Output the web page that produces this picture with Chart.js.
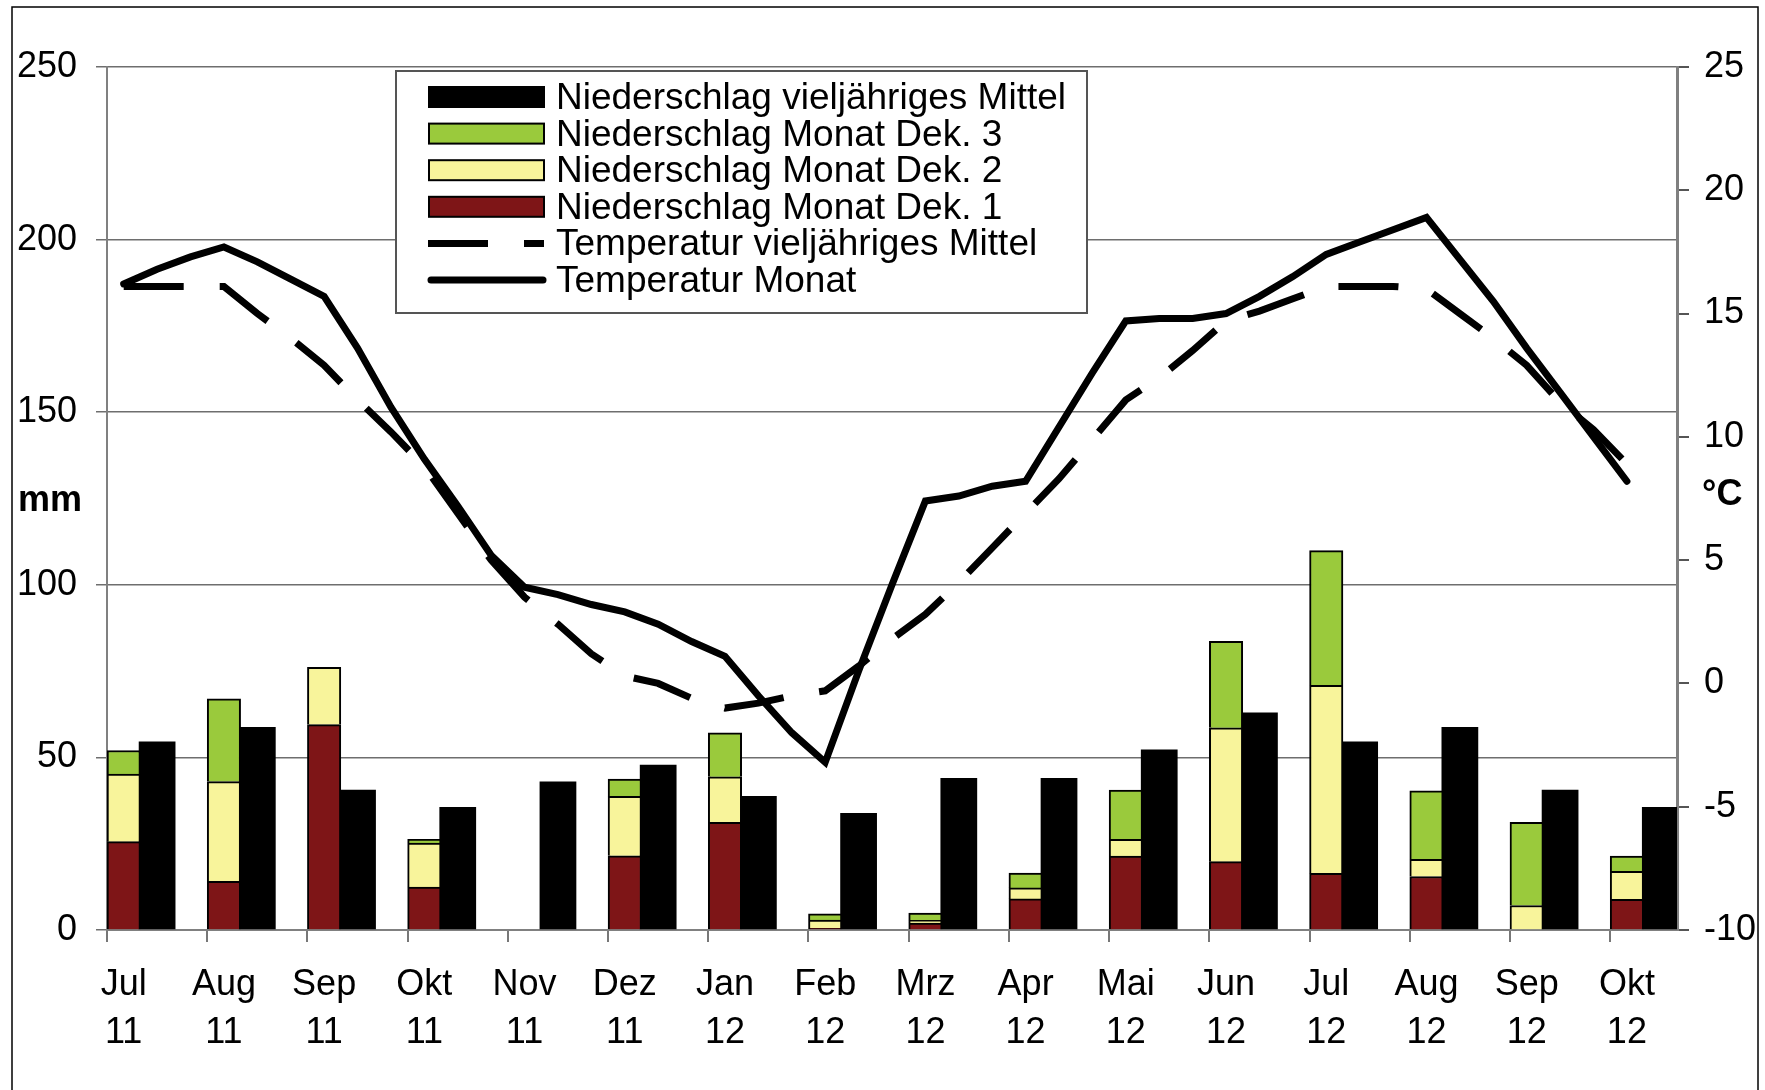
<!DOCTYPE html>
<html lang="de">
<head>
<meta charset="utf-8">
<title>Niederschlag und Temperatur</title>
<script src="https://cdn.jsdelivr.net/npm/chart.js@4.4.1/dist/chart.umd.min.js"></script>
<style>
  html, body { margin: 0; padding: 0; background: #fff; }
  canvas { display: block; }
</style>
</head>
<body>
<canvas id="klimaChart" width="1765" height="1090"></canvas>
<script>
// months Jul 11 .. Okt 12
const months = ['Jul', 'Aug', 'Sep', 'Okt', 'Nov', 'Dez', 'Jan', 'Feb', 'Mrz', 'Apr', 'Mai', 'Jun', 'Jul', 'Aug', 'Sep', 'Okt'];
const years  = ['11', '11', '11', '11', '11', '11', '12', '12', '12', '12', '12', '12', '12', '12', '12', '12'];

// precipitation in mm, per dekade of the month and long-term mean
const niederschlagDek1   = [25.6, 14.1, 59.5, 12.4, 0, 21.5, 31.2, 0.5, 2.0, 9.0, 21.4, 19.8, 16.4, 15.5, 0, 8.9];
const niederschlagDek2   = [19.6, 28.9, 16.6, 12.8, 0, 17.2, 13.2, 2.4, 0.8, 3.2, 4.9, 38.8, 54.5, 5.0, 7.1, 8.1];
const niederschlagDek3   = [6.8, 24.0, 0, 1.1, 0, 5.0, 12.7, 1.8, 2.1, 4.3, 14.2, 25.0, 39.0, 19.8, 24.1, 4.4];
const niederschlagMittel = [54.6, 58.8, 40.6, 35.6, 43.0, 47.9, 38.8, 33.9, 44.0, 44.0, 52.3, 63.0, 54.6, 58.8, 40.6, 35.6];

// temperature in °C, one value per dekade (Jul 11 Dek.1 .. Okt 12 Dek.1)
const tempMonat = [16.2, 16.8, 17.3, 17.7, 17.1, 16.4, 15.7, 13.6, 11.2, 9.1, 7.2, 5.2,
                   3.9, 3.6, 3.2, 2.9, 2.4, 1.7, 1.1, -0.5, -2.0, -3.2, 0.5, 4.0,
                   7.4, 7.6, 8.0, 8.2, 10.4, 12.6, 14.7, 14.8, 14.8, 15.0, 15.7, 16.5,
                   17.4, 17.9, 18.4, 18.9, 17.2, 15.5, 13.6, 11.8, 10.0, 8.2];
const tempMittel = [16.1, 16.1, 16.1, 16.1, 15.0, 14.0, 12.9, 11.5, 10.2, 8.8, 6.9, 5.0,
                    3.5, 2.4, 1.2, 0.3, 0.0, -0.6, -1.0, -0.8, -0.5, -0.3, 0.7, 1.8,
                    2.8, 4.1, 5.5, 6.9, 8.3, 9.9, 11.5, 12.4, 13.5, 14.7, 15.1, 15.6,
                    16.1, 16.1, 16.1, 16.0, 15.0, 14.0, 12.9, 11.4, 10.3, 8.9];

const mmTicks   = [0, 50, 100, 150, 200, 250];
const tempTicks = [-10, -5, 0, 5, 10, 15, 20, 25];

// the axis has 3 slots per month (one per dekade), the last month only 2
const SLOTS = months.length * 3 - 1;

const slotLabels = [];
for (let i = 0; i < SLOTS; i++) {
  slotLabels.push(i % 3 === 0 ? [months[i / 3], years[i / 3]] : '');
}

// monthly values -> slot array: stacked bar sits in slot 0, mean bar in slot 1
function toSlots(values, offset) {
  const arr = new Array(SLOTS).fill(null);
  values.forEach((v, m) => { arr[m * 3 + offset] = v; });
  return arr;
}

const FONT = '"Liberation Sans", Arial, sans-serif';
Chart.defaults.font.family = FONT;
Chart.defaults.font.size = 36;
Chart.defaults.color = '#000';

const segBorder = { top: 2, left: 2, right: 2, bottom: 0 };

const datasets = [
  {
    type: 'line', label: 'Temperatur Monat', data: tempMonat, yAxisID: 'y2',
    borderColor: '#000', borderWidth: 7, pointRadius: 0, tension: 0, fill: false,
    borderCapStyle: 'round', borderJoinStyle: 'miter'
  },
  {
    type: 'line', label: 'Temperatur vieljähriges Mittel', data: tempMittel, yAxisID: 'y2',
    borderColor: '#000', borderWidth: 7, pointRadius: 0, tension: 0, fill: false,
    borderDash: [60, 36], borderCapStyle: 'butt', borderJoinStyle: 'miter'
  },
  {
    type: 'bar', label: 'Niederschlag Monat Dek. 1', data: toSlots(niederschlagDek1, 0), yAxisID: 'y',
    backgroundColor: '#7E1517', borderColor: '#000', borderWidth: segBorder, borderSkipped: false
  },
  {
    type: 'bar', label: 'Niederschlag Monat Dek. 2', data: toSlots(niederschlagDek2, 0), yAxisID: 'y',
    backgroundColor: '#F8F49B', borderColor: '#000', borderWidth: segBorder, borderSkipped: false
  },
  {
    type: 'bar', label: 'Niederschlag Monat Dek. 3', data: toSlots(niederschlagDek3, 0), yAxisID: 'y',
    backgroundColor: '#9ACA3C', borderColor: '#000', borderWidth: segBorder, borderSkipped: false
  },
  {
    type: 'bar', label: 'Niederschlag vieljähriges Mittel', data: toSlots(niederschlagMittel, 1), yAxisID: 'y',
    backgroundColor: '#000', borderWidth: 0, barPercentage: 1.1
  }
];

// order of the legend rows (dataset indexes)
const legendOrder = [5, 4, 3, 2, 1, 0];

const whiteBg = {
  id: 'whiteBg',
  beforeDraw(chart) {
    const ctx = chart.ctx;
    ctx.save();
    ctx.fillStyle = '#fff';
    ctx.fillRect(0, 0, chart.width, chart.height);
    ctx.restore();
  }
};

const boxLegend = {
  id: 'boxLegend',
  afterDraw(chart) {
    const ctx = chart.ctx;
    ctx.save();
    ctx.fillStyle = '#fff';
    ctx.fillRect(396, 71, 691, 242);
    ctx.strokeStyle = '#555';
    ctx.lineWidth = 2;
    ctx.strokeRect(396, 71, 691, 242);

    legendOrder.forEach((idx, row) => {
      const ds = chart.data.datasets[idx];
      const cy = 97 + row * 36.6;
      if (ds.type === 'bar') {
        ctx.fillStyle = ds.backgroundColor;
        ctx.fillRect(429, cy - 10, 115, 20);
        ctx.strokeStyle = '#000';
        ctx.lineWidth = 2;
        ctx.strokeRect(429, cy - 10, 115, 20);
      } else {
        ctx.beginPath();
        ctx.setLineDash(ds.borderDash || []);
        ctx.lineCap = ds.borderCapStyle;
        ctx.lineWidth = 7;
        ctx.strokeStyle = '#000';
        if (ds.borderDash) {
          ctx.moveTo(428, cy);
        } else {
          ctx.moveTo(431, cy);
        }
        ctx.lineTo(ds.borderDash ? 544 : 543, cy);
        ctx.stroke();
        ctx.setLineDash([]);
      }
      ctx.fillStyle = '#000';
      ctx.font = '37px ' + FONT;
      ctx.textBaseline = 'alphabetic';
      ctx.fillText(ds.label, 556, cy + 12);
    });
    ctx.restore();
  }
};

const extras = {
  id: 'extras',
  afterDraw(chart) {
    const ctx = chart.ctx;
    ctx.save();
    ctx.fillStyle = '#000';
    ctx.font = 'bold 36px ' + FONT;
    ctx.textBaseline = 'alphabetic';
    ctx.fillText('mm', 18, 511);
    ctx.fillText('°C', 1702, 505);
    // frame round the whole picture
    ctx.strokeStyle = '#000';
    ctx.lineWidth = 1.5;
    ctx.strokeRect(12, 7, 1746, 1100);
    ctx.restore();
  }
};

new Chart(document.getElementById('klimaChart'), {
  data: { labels: slotLabels, datasets: datasets },
  options: {
    responsive: false,
    animation: false,
    devicePixelRatio: 1,
    events: [],
    layout: { padding: { top: 67, left: 0, right: 0, bottom: 0 } },
    datasets: {
      bar: { categoryPercentage: 1, barPercentage: 1 }
    },
    plugins: {
      legend: { display: false },
      tooltip: { enabled: false }
    },
    scales: {
      x: {
        type: 'category',
        stacked: true,
        offset: true,
        grid: {
          offset: true,
          drawOnChartArea: false,
          drawTicks: true,
          tickLength: 12,
          lineWidth: 2,
          color: (c) => (c.index % 3 === 0 ? '#777' : 'rgba(0,0,0,0)')
        },
        border: { display: true, color: '#808080', width: 2 },
        ticks: {
          autoSkip: false, maxRotation: 0, minRotation: 0, padding: 19,
          font: { size: 36, lineHeight: 1.33 }, color: '#000'
        },
        afterFit: (s) => { s.height = 160; }
      },
      y: {
        position: 'left',
        stacked: true,
        min: mmTicks[0],
        max: mmTicks[mmTicks.length - 1],
        afterBuildTicks: (s) => { s.ticks = mmTicks.map((v) => ({ value: v })); },
        grid: { color: '#6e6e6e', lineWidth: 1.5, tickLength: 11, drawTicks: true },
        border: { color: '#808080', width: 2 },
        ticks: { padding: 19, font: { size: 36 }, color: '#000' },
        afterFit: (s) => { s.width = 107; }
      },
      y2: {
        position: 'right',
        stacked: false,
        min: tempTicks[0],
        max: tempTicks[tempTicks.length - 1],
        afterBuildTicks: (s) => { s.ticks = tempTicks.map((v) => ({ value: v })); },
        grid: { drawOnChartArea: false, tickLength: 12, color: '#555', lineWidth: 2 },
        border: { color: '#808080', width: 3 },
        ticks: { padding: 15, font: { size: 36 }, color: '#000' },
        afterFit: (s) => { s.width = 88; }
      }
    }
  },
  plugins: [whiteBg, boxLegend, extras]
});
</script>
</body>
</html>
